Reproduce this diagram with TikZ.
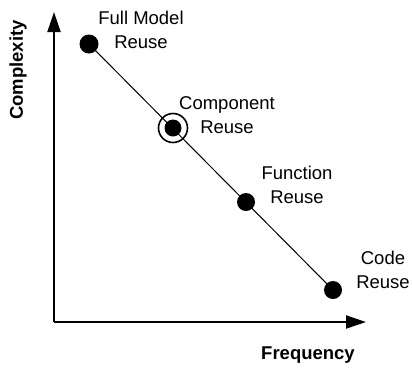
\documentclass[tikz,border=0pt]{standalone}
\usepackage{fontspec}
\setmainfont{Liberation Sans}
\usetikzlibrary{arrows.meta}
\tikzset{
  axis/.style={line width=2pt, -{Triangle[length=20pt, width=13pt]}},
  dot/.style={circle, fill=black, inner sep=0pt, minimum size=19pt},
  lbl/.style={align=center, font=\fontsize{18.5}{24}\selectfont, inner sep=0pt},
  axislbl/.style={font=\bfseries\fontsize{18.5}{22}\selectfont, inner sep=0pt},
}
\begin{document}
\begin{tikzpicture}[x=1pt, y=-1pt]
  \useasboundingbox (0,0) rectangle (412,368);
  % axes
  \coordinate (origin) at (54,322);
  \coordinate (ytip) at (54,12);
  \coordinate (xtip) at (366,322);
  \draw[axis] (origin) -- (ytip);
  \draw[axis] (origin) -- (xtip);
  \node[axislbl, rotate=90] (ylabel) at (18,70) {Complexity};
  \node[axislbl] (xlabel) at (308,355) {Frequency};
  % reuse levels
  \node[dot] (full) at (89,44) {};
  \node[dot, minimum size=17pt] (comp) at (173,128) {};
  \node[dot, minimum size=18pt] (func) at (246,202) {};
  \node[dot, minimum size=18pt] (code) at (333,290) {};
  \draw[line width=1pt] (full.center) -- (code.center);
  \node[circle, draw, line width=1.6pt, minimum size=29pt, inner sep=0pt] (ring) at (comp) {};
  \node[lbl] (fulllbl) at (141,30) {Full Model\\Reuse};
  \node[lbl] (complbl) at (227,115) {Component\\Reuse};
  \node[lbl] (funclbl) at (297,185) {Function\\Reuse};
  \node[lbl] (codelbl) at (383,270) {Code\\Reuse};
\end{tikzpicture}
\end{document}
